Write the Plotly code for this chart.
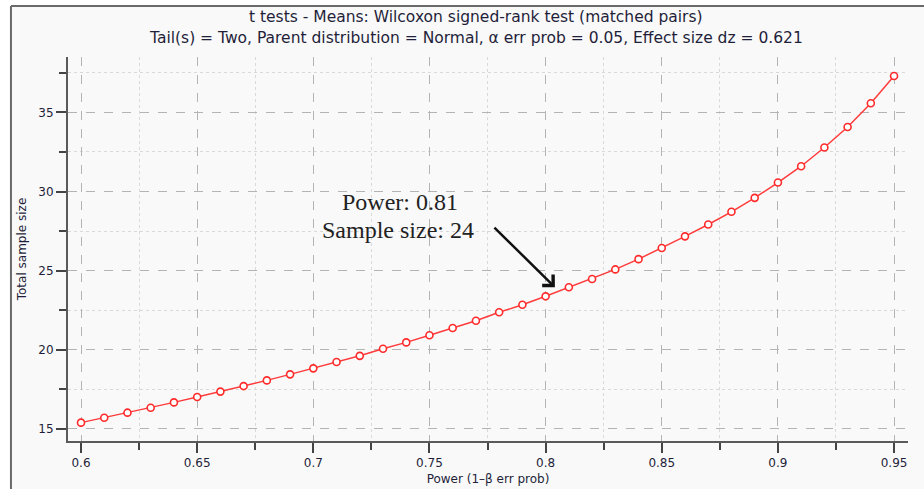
import plotly.graph_objects as go

power = [0.60, 0.61, 0.62, 0.63, 0.64, 0.65, 0.66, 0.67, 0.68, 0.69,
         0.70, 0.71, 0.72, 0.73, 0.74, 0.75, 0.76, 0.77, 0.78, 0.79,
         0.80, 0.81, 0.82, 0.83, 0.84, 0.85, 0.86, 0.87, 0.88, 0.89,
         0.90, 0.91, 0.92, 0.93, 0.94, 0.95]
sample_size = [15.40, 15.71, 16.03, 16.34, 16.68, 17.02, 17.36, 17.71, 18.07, 18.45,
               18.83, 19.23, 19.62, 20.07, 20.47, 20.92, 21.38, 21.84, 22.37, 22.85,
               23.38, 23.95, 24.47, 25.08, 25.73, 26.43, 27.17, 27.92, 28.72, 29.60,
               30.57, 31.60, 32.78, 34.08, 35.58, 37.30]

title = "t tests - Means: Wilcoxon signed-rank test (matched pairs)"
subtitle = "Tail(s) = Two, Parent distribution = Normal, α err prob = 0.05, Effect size dz = 0.621"
x_label = "Power (1–β err prob)"
y_label = "Total sample size"
note_line1 = "Power: 0.81"
note_line2 = "Sample size: 24"
note_point = (0.804, 23.96)

fig = go.Figure()
fig.add_trace(go.Scatter(
    x=power, y=sample_size, mode="lines+markers",
    line=dict(color="#ff3b3b", width=1.5),
    marker=dict(symbol="circle", size=7, color="white",
                line=dict(color="#ff2a2a", width=1.6)),
    showlegend=False, hoverinfo="x+y",
))

tickfont = dict(family="DejaVu Sans", size=12, color="#1f1f3a")
grid_major = "#b4b4b4"
grid_minor = "#d9d9d9"

fig.update_layout(
    width=924, height=489,
    margin=dict(l=68, r=16, t=57, b=48),
    paper_bgcolor="white",
    plot_bgcolor="#f0f0f0",
    xaxis=dict(
        range=[0.5944, 0.956], tick0=0.6, dtick=0.05, tickformat="~g",
        automargin=False,
        showline=True, linecolor="#5a5a5a", linewidth=2,
        ticks="outside", ticklen=10, tickwidth=1.5, tickcolor="#444",
        showgrid=True, gridcolor=grid_major, griddash="dash", gridwidth=1.2,
        zeroline=False, tickfont=tickfont,
        title=dict(text=x_label, font=dict(family="DejaVu Sans", size=12, color="#1f1f3a"), standoff=5),
        minor=dict(dtick=0.025, ticks="outside", ticklen=7, tickwidth=1.5, tickcolor="#444",
                   showgrid=True, gridcolor=grid_minor, griddash="dot", gridwidth=1),
    ),
    yaxis=dict(
        range=[14.24, 38.5], tick0=15, dtick=5,
        automargin=False,
        showline=True, linecolor="#5a5a5a", linewidth=2,
        ticks="outside", ticklen=10, tickwidth=1.5, tickcolor="#444",
        showgrid=True, gridcolor=grid_major, griddash="dash", gridwidth=1.2,
        zeroline=False, tickfont=tickfont,
        title=dict(text=y_label, font=dict(family="DejaVu Sans", size=12, color="#1f1f3a"), standoff=9),
        minor=dict(dtick=2.5, ticks="outside", ticklen=7, tickwidth=1.5, tickcolor="#444",
                   showgrid=True, gridcolor=grid_minor, griddash="dot", gridwidth=1),
    ),
)

# outer panel frame and background
fig.add_shape(type="rect", xref="paper", yref="paper", x0=-0.0679, x1=1.05, y0=-0.2, y1=1.1328,
              fillcolor="#f9f9f9", line=dict(width=0), layer="below")
fig.add_shape(type="line", xref="paper", yref="paper", x0=-0.0679, x1=-0.0679, y0=-0.2, y1=1.1328,
              line=dict(color="#6a6a6a", width=2))
fig.add_shape(type="line", xref="paper", yref="paper", x0=-0.0679, x1=1.05, y0=1.1328, y1=1.1328,
              line=dict(color="#6a6a6a", width=2))

head_font = dict(family="DejaVu Sans", size=15.5, color="#1f1f3a")
fig.add_annotation(text=title, xref="paper", yref="paper", x=0.4857, y=1.105,
                   showarrow=False, xanchor="center", yanchor="middle", font=head_font)
fig.add_annotation(text=subtitle, xref="paper", yref="paper", x=0.4857, y=1.0495,
                   showarrow=False, xanchor="center", yanchor="middle", font=head_font)

# arrow
fig.add_annotation(x=note_point[0], y=note_point[1], xref="x", yref="y", text="",
                   showarrow=True, arrowhead=4, arrowsize=1.2, arrowwidth=2.5,
                   arrowcolor="#111", ax=-62, ay=-61)
note_font = dict(family="Liberation Serif", size=24, color="#222")
fig.add_annotation(x=0.7373, y=29.33, xref="x", yref="y", text=note_line1, showarrow=False,
                   font=note_font)
fig.add_annotation(x=0.7365, y=27.56, xref="x", yref="y", text=note_line2, showarrow=False,
                   font=note_font)

# remove the default page margin so the 924x489 figure fills the window exactly
fig.write_html("out.html", config={"displayModeBar": False},
               post_script="document.body.style.margin='0';")
